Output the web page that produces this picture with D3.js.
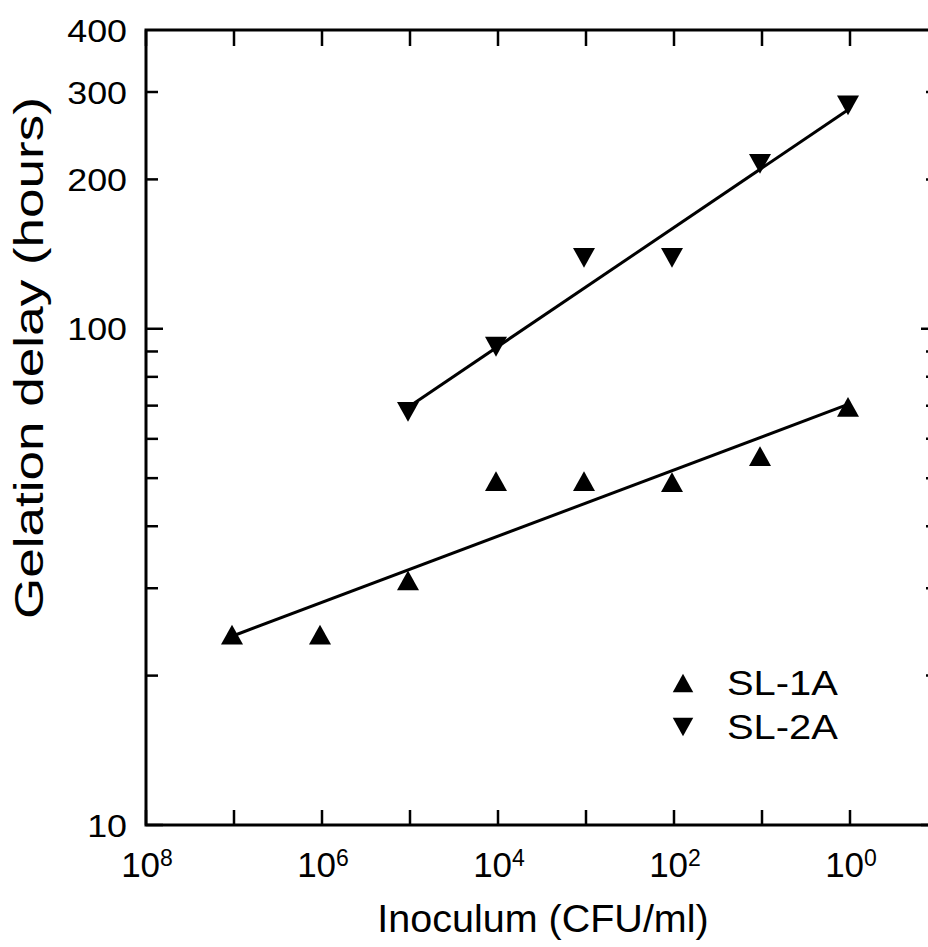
<!DOCTYPE html>
<html>
<head>
<meta charset="utf-8">
<script src="https://cdn.jsdelivr.net/npm/d3@7"></script>
<style>
  body { margin: 0; background: white; }
  svg { display: block; overflow: hidden; }
  text { font-family: "Liberation Sans", Arial, sans-serif; fill: black; }
</style>
</head>
<body>
<div id="wrapper"></div>
<script>
// data
const inoculum = [1e7, 1e6, 1e5, 1e4, 1e3, 1e2, 1e1, 1e0]
const sl1a = [24.2, 24.2, 31.1, 49.3, 49.3, 49.1, 55.4, 69.6]
const inoculum2 = [1e5, 1e4, 1e3, 1e2, 1e1, 1e0]
const sl2a = [68, 92, 139, 139, 215, 282]
const xTicks = [1e8, 1e7, 1e6, 1e5, 1e4, 1e3, 1e2, 1e1, 1e0]
const xLabelExp = [8, 6, 4, 2, 0]
const yMajor = [10, 100]
const yMinor = [20, 30, 40, 50, 60, 70, 80, 90, 200, 300]
const yLabels = [10, 100, 200, 300, 400]
const seriesNames = ["SL-1A", "SL-2A"]

function drawChart() {
    const dimensions = {
        width: 928,
        height: 947,
        margin: { top: 30, right: -10, bottom: 122, left: 146 },
    }
    dimensions.boundedWidth = dimensions.width - dimensions.margin.left - dimensions.margin.right
    dimensions.boundedHeight = dimensions.height - dimensions.margin.top - dimensions.margin.bottom

    const wrapper = d3.select("#wrapper")
        .append("svg")
        .attr("width", dimensions.width)
        .attr("height", dimensions.height)

    const bounds = wrapper.append("g")
        .attr("transform", `translate(${dimensions.margin.left},${dimensions.margin.top})`)

    const xScale = d3.scaleLog()
        .domain([1e8, 1e-1])
        .range([0, dimensions.boundedWidth])
    const yScale = d3.scaleLog()
        .domain([10, 400])
        .range([dimensions.boundedHeight, 0])

    const W = dimensions.boundedWidth, H = dimensions.boundedHeight

    // frame
    bounds.append("rect")
        .attr("width", W).attr("height", H)
        .attr("fill", "none").attr("stroke", "black").attr("stroke-width", 3)

    // x ticks (inward, bottom and top)
    bounds.selectAll(".xtb").data(xTicks).join("line")
        .attr("x1", d => xScale(d)).attr("x2", d => xScale(d))
        .attr("y1", H).attr("y2", H - 15)
        .attr("stroke", "black").attr("stroke-width", 2.5)
    bounds.selectAll(".xtt").data(xTicks).join("line")
        .attr("x1", d => xScale(d)).attr("x2", d => xScale(d))
        .attr("y1", 0).attr("y2", 16)
        .attr("stroke", "black").attr("stroke-width", 2.5)

    // y ticks (inward, left and right)
    const yTickData = yMajor.map(v => ({ v, len: 17 })).concat(yMinor.map(v => ({ v, len: 12 })))
    bounds.selectAll(".ytl").data(yTickData).join("line")
        .attr("x1", 0).attr("x2", d => d.len)
        .attr("y1", d => yScale(d.v)).attr("y2", d => yScale(d.v))
        .attr("stroke", "black").attr("stroke-width", 2.5)
    bounds.selectAll(".ytr").data(yTickData).join("line")
        .attr("x1", W).attr("x2", d => W - d.len)
        .attr("y1", d => yScale(d.v)).attr("y2", d => yScale(d.v))
        .attr("stroke", "black").attr("stroke-width", 2.5)

    // y tick labels (glyphs are a bit wide in the original)
    bounds.selectAll(".ylab").data(yLabels).join("text")
        .attr("transform", d => `translate(-19,${yScale(d)}) scale(1.12,1)`)
        .attr("dy", "0.36em")
        .attr("text-anchor", "end")
        .style("font-size", "32px")
        .text(d => d)

    // x tick labels: 10^n
    const xl = bounds.selectAll(".xlab").data(xLabelExp).join("text")
        .attr("x", d => xScale(Math.pow(10, d)) + 1)
        .attr("y", H + 52)
        .attr("text-anchor", "middle")
        .style("font-size", "35px")
    xl.append("tspan").text("10")
    xl.append("tspan").attr("dy", -11).style("font-size", "23px").text(d => d)

    // axis titles
    bounds.append("text")
        .attr("x", 397)
        .attr("y", H + 107)
        .attr("text-anchor", "middle")
        .style("font-size", "39.5px")
        .text("Inoculum (CFU/ml)")
    bounds.append("text")
        .attr("transform", `translate(${-103},${328}) rotate(-90)`)
        .attr("text-anchor", "middle")
        .attr("textLength", 522)
        .attr("lengthAdjust", "spacingAndGlyphs")
        .style("font-size", "40px")
        .text("Gelation delay (hours)")

    // triangle symbols centred on their box
    const triUp = { draw(ctx, size) { const h = Math.sqrt(size) / 2; ctx.moveTo(0, -h * 0.9); ctx.lineTo(h, h * 0.9); ctx.lineTo(-h, h * 0.9); ctx.closePath() } }
    const triDown = { draw(ctx, size) { const h = Math.sqrt(size) / 2; ctx.moveTo(0, h * 0.9); ctx.lineTo(h, -h * 0.9); ctx.lineTo(-h, -h * 0.9); ctx.closePath() } }
    const symUp = d3.symbol(triUp, 484)
    const symDown = d3.symbol(triDown, 484)

    // least squares fit in log-log space
    function fitLine(xs, ys) {
        const lx = xs.map(Math.log10), ly = ys.map(Math.log10)
        const mx = d3.mean(lx), my = d3.mean(ly)
        const slope = d3.sum(lx, (v, i) => (v - mx) * (ly[i] - my)) / d3.sum(lx, v => (v - mx) ** 2)
        const ends = d3.extent(lx)
        return ends.map(v => [Math.pow(10, v), Math.pow(10, my + slope * (v - mx))])
    }

    const series = [
        { xs: inoculum, ys: sl1a, sym: symUp },
        { xs: inoculum2, ys: sl2a, sym: symDown },
    ]
    const lineGen = d3.line().x(d => xScale(d[0])).y(d => yScale(d[1]))
    series.forEach(s => {
        bounds.append("path")
            .attr("d", lineGen(fitLine(s.xs, s.ys)))
            .attr("fill", "none").attr("stroke", "black").attr("stroke-width", 3)
        bounds.selectAll(null).data(s.xs).join("path")
            .attr("transform", (d, i) => `translate(${xScale(d) - 2},${yScale(s.ys[i])})`)
            .attr("d", s.sym())
            .attr("fill", "black")
    })

    // legend
    const legend = bounds.append("g").attr("transform", `translate(537,653)`)
    legend.selectAll("path").data([symUp, symDown]).join("path")
        .attr("transform", (d, i) => `translate(0,${i * 44})`)
        .attr("d", d => d.size(420)())
        .attr("fill", "black")
    legend.selectAll("text").data(seriesNames).join("text")
        .attr("transform", (d, i) => `translate(44,${i * 44 + 12}) scale(1.14,1)`)
        .style("font-size", "35px")
        .text(d => d)
}
drawChart()
</script>
</body>
</html>
